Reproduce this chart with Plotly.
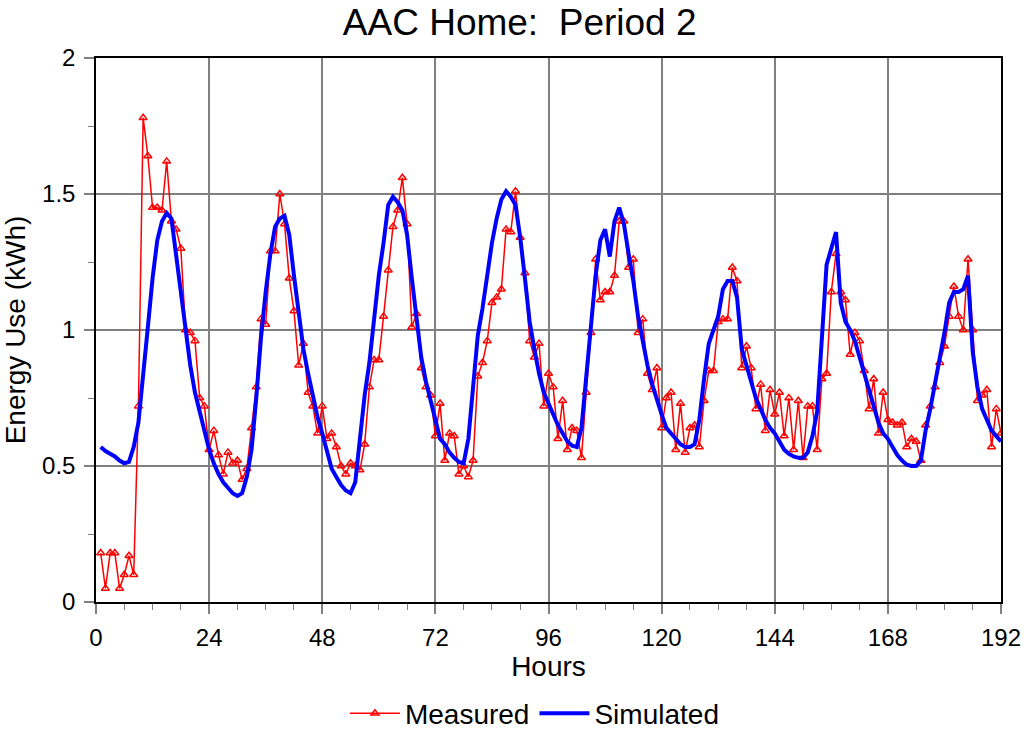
import plotly.graph_objects as go

hours = list(range(1, 193))

measured = [
    0.18, 0.05, 0.18, 0.18, 0.05, 0.10, 0.17, 0.10, 0.72, 1.78, 1.64, 1.45,
    1.45, 1.44, 1.62, 1.40, 1.37, 1.30, 1.00, 0.99, 0.96, 0.75, 0.72, 0.56,
    0.63, 0.54, 0.47, 0.55, 0.51, 0.52, 0.45, 0.49, 0.64, 0.79, 1.04, 1.02,
    1.29, 1.29, 1.50, 1.39, 1.19, 1.07, 0.87, 0.95, 0.77, 0.72, 0.62, 0.72,
    0.60, 0.62, 0.57, 0.50, 0.47, 0.51, 0.50, 0.485, 0.58, 0.79, 0.89, 0.89,
    1.05, 1.22, 1.38, 1.44, 1.56, 1.39, 1.01, 1.06, 0.86, 0.79, 0.76, 0.61,
    0.73, 0.52, 0.62, 0.61, 0.47, 0.50, 0.46, 0.52, 0.83, 0.88, 0.96, 1.10,
    1.12, 1.15, 1.37, 1.36, 1.51, 1.34, 1.21, 0.96, 0.90, 0.95, 0.72, 0.84,
    0.79, 0.60, 0.74, 0.56, 0.64, 0.63, 0.53, 0.77, 0.99, 1.26, 1.11, 1.14,
    1.14, 1.20, 1.40, 1.40, 1.23, 1.26, 0.99, 1.04, 0.84, 0.78, 0.86, 0.64,
    0.75, 0.77, 0.56, 0.73, 0.55, 0.64, 0.65, 0.57, 0.74, 0.85, 0.85, 1.03,
    1.04, 1.04, 1.23, 1.18, 0.86, 0.94, 0.86, 0.71, 0.80, 0.63, 0.78, 0.69,
    0.77, 0.61, 0.75, 0.56, 0.74, 0.53, 0.72, 0.72, 0.56, 0.82, 0.84, 1.14,
    1.28, 1.14, 1.11, 0.91, 0.99, 0.96, 0.85, 0.71, 0.82, 0.62, 0.77, 0.67,
    0.66, 0.65, 0.66, 0.57, 0.60, 0.59, 0.52, 0.65, 0.72, 0.79, 0.88, 0.94,
    1.05, 1.16, 1.05, 1.00, 1.26, 1.00, 0.74, 0.76, 0.78, 0.57, 0.71, 0.62,
]

simulated = [
    0.57, 0.555, 0.545, 0.535, 0.52, 0.51, 0.515, 0.57, 0.66, 0.82, 1.01, 1.19,
    1.33, 1.40, 1.43, 1.41, 1.28, 1.13, 1.01, 0.87, 0.77, 0.70, 0.62, 0.56,
    0.51, 0.47, 0.44, 0.42, 0.40, 0.39, 0.40, 0.46, 0.56, 0.75, 0.97, 1.14,
    1.28, 1.38, 1.41, 1.42, 1.35, 1.20, 1.07, 0.93, 0.84, 0.76, 0.68, 0.62,
    0.55, 0.49, 0.46, 0.43, 0.41, 0.40, 0.44, 0.61, 0.76, 0.88, 1.05, 1.20,
    1.32, 1.46, 1.49, 1.47, 1.44, 1.35, 1.19, 1.04, 0.90, 0.81, 0.74, 0.66,
    0.60, 0.58, 0.55, 0.53, 0.515, 0.51, 0.60, 0.79, 0.98, 1.08, 1.20, 1.32,
    1.41, 1.48, 1.51, 1.49, 1.46, 1.34, 1.19, 1.03, 0.93, 0.84, 0.77, 0.73,
    0.69, 0.65, 0.62, 0.59, 0.575, 0.57, 0.64, 0.82, 1.01, 1.20, 1.33, 1.37,
    1.27, 1.40, 1.45, 1.39, 1.28, 1.18, 1.05, 0.96, 0.87, 0.80, 0.74, 0.69,
    0.64, 0.62, 0.60, 0.58, 0.57, 0.57, 0.58, 0.67, 0.82, 0.95, 1.00, 1.05,
    1.15, 1.18, 1.18, 1.12, 0.93, 0.87, 0.81, 0.75, 0.71, 0.67, 0.64, 0.62,
    0.59, 0.56, 0.545, 0.535, 0.53, 0.53, 0.55, 0.61, 0.70, 1.00, 1.24, 1.30,
    1.36, 1.10, 1.03, 1.00, 0.96, 0.90, 0.84, 0.78, 0.72, 0.66, 0.62, 0.60,
    0.57, 0.54, 0.52, 0.505, 0.50, 0.50, 0.52, 0.63, 0.71, 0.80, 0.89, 0.99,
    1.10, 1.14, 1.14, 1.15, 1.20, 0.92, 0.79, 0.71, 0.67, 0.63, 0.61, 0.59,
]

x_ticks = [0, 24, 48, 72, 96, 120, 144, 168, 192]
y_ticks = [0, 0.5, 1, 1.5, 2]
y_tick_labels = ["0", "0.5", "1", "1.5", "2"]

FONT = "Liberation Sans, Arial, sans-serif"

fig = go.Figure()
fig.add_trace(go.Scatter(
    x=hours, y=measured, name="Measured", mode="lines+markers",
    line=dict(color="#FF0000", width=1.5),
    marker=dict(symbol="triangle-up-open", size=7, color="#FF0000",
                line=dict(color="#FF0000", width=1.5)),
))
fig.add_trace(go.Scatter(
    x=hours, y=simulated, name="Simulated", mode="lines",
    line=dict(color="#0000FF", width=4),
))

fig.update_layout(
    width=1025, height=731,
    margin=dict(l=96, r=24, t=58, b=129, autoexpand=False),
    paper_bgcolor="white", plot_bgcolor="white",
    font=dict(family=FONT, color="black"),
    title=dict(text="AAC Home:  Period 2", x=0.507, xanchor="center",
               y=0.97, yanchor="middle", font=dict(size=37, family=FONT)),
    legend=dict(orientation="h", x=0.485, xanchor="center", y=-0.205,
                yanchor="middle", font=dict(size=28), bgcolor="rgba(0,0,0,0)",
                itemwidth=50),
    showlegend=True,
)
fig.update_xaxes(
    range=[0, 192], tickvals=x_ticks, ticktext=[str(v) for v in x_ticks],
    showgrid=True, gridcolor="#808080", gridwidth=2,
    showline=True, linecolor="black", linewidth=2, mirror=True,
    ticks="outside", ticklen=10, tickcolor="#808080", tickwidth=2,
    minor=dict(dtick=6, tick0=0, ticks="outside", ticklen=6,
               tickcolor="#808080", tickwidth=1, showgrid=False),
    tickfont=dict(size=24), zeroline=False, automargin=False,
    ticklabelstandoff=3,
    title=dict(text="Hours", font=dict(size=28), standoff=6),
)
fig.update_yaxes(
    range=[0, 2], tickvals=y_ticks, ticktext=y_tick_labels,
    showgrid=True, gridcolor="#808080", gridwidth=2,
    showline=True, linecolor="black", linewidth=1.5, mirror=True,
    ticks="outside", ticklen=10, tickcolor="#808080", tickwidth=2,
    minor=dict(dtick=0.25, tick0=0, ticks="outside", ticklen=6,
               tickcolor="#808080", tickwidth=1, showgrid=False),
    tickfont=dict(size=24), zeroline=False, automargin=False,
    ticklabelstandoff=4,
    title=dict(text="Energy Use (kWh)", font=dict(size=28), standoff=8),
)

fig.write_html(
    "out.html",
    config={"displayModeBar": False},
    post_script="document.body.style.margin='0';document.body.style.overflow='hidden';",
)
